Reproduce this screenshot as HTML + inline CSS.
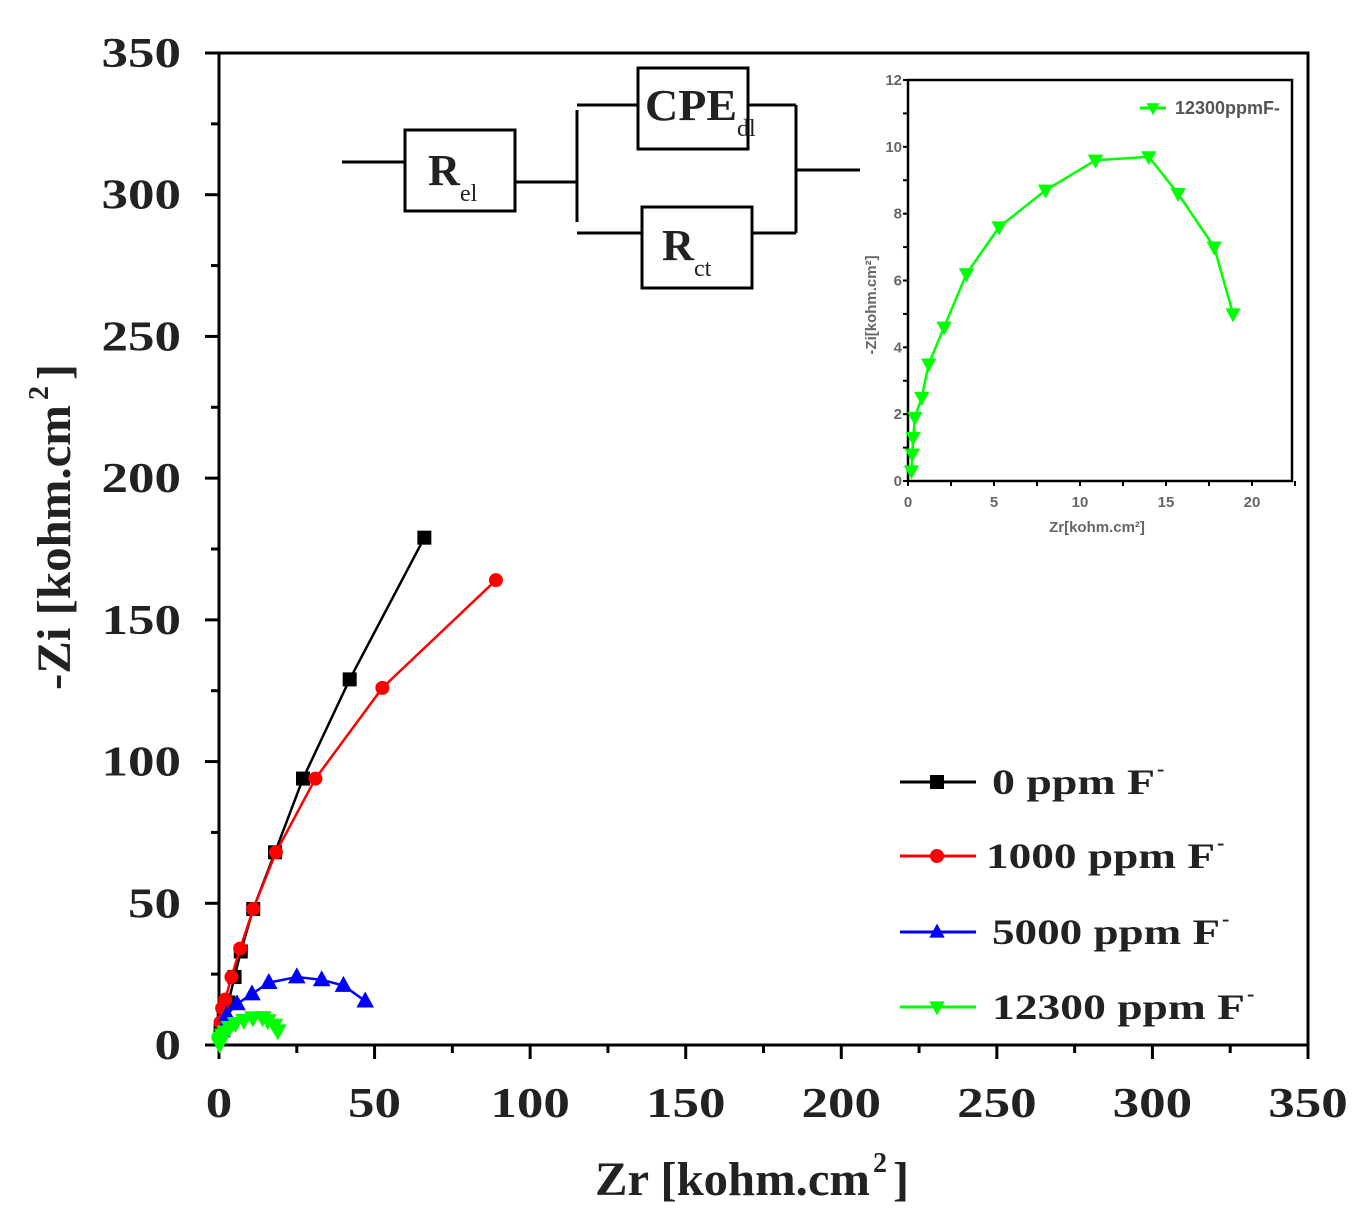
<!DOCTYPE html>
<html><head><meta charset="utf-8"><style>
html,body{margin:0;padding:0;background:#fff;}
svg{display:block;font-family:"Liberation Serif",serif;}
</style></head><body>
<svg id="chart" width="1360" height="1223" viewBox="0 0 1360 1223" xmlns="http://www.w3.org/2000/svg"></svg>
<script>
const xTicks=[0,50,100,150,200,250,300,350];
const yTicks=[0,50,100,150,200,250,300,350];
const seriesNames=["0 ppm F","1000 ppm F","5000 ppm F","12300 ppm F"];
const blackX=[0.5,1.5,3,5,7,11,18,27,42,66];
const blackY=[5,10,15,24,33,48,68,94,129,179];
const redX=[0.5,1,2,4,6.8,11,18.3,31,52.5,89];
const redY=[8,13,16,24,34,48,68,94,126,164];
const blueX=[1,2.5,5.8,10.6,16,25,33,40,47];
const blueY=[5,10.6,14.5,18,22,24,23,21,15.5];
const greenX=[0.2,0.25,0.3,0.4,0.8,1.2,2.1,3.4,5.3,8.0,10.9,14.0,15.7,17.8,18.9];
const greenY=[0.3,0.8,1.3,1.9,2.5,3.5,4.6,6.2,7.6,8.7,9.6,9.7,8.6,7.0,5.0];
const insetXTicks=[0,5,10,15,20];
const insetYTicks=[0,2,4,6,8,10,12];

const NS="http://www.w3.org/2000/svg";
const svg=document.getElementById('chart');
function mk(tag,attrs,parent){const e=document.createElementNS(NS,tag);for(const k in attrs)e.setAttribute(k,attrs[k]);(parent||svg).appendChild(e);return e;}
const X0=219,X1=1308,Y0=1045,Y1=53;
const sx=v=>X0+(v/350)*(X1-X0);
const sy=v=>Y0-(v/350)*(Y0-Y1);

const frame=mk('rect',{x:X0,y:Y1,width:X1-X0,height:Y0-Y1,fill:'none',stroke:'#000','stroke-width':3});


for(let v=0;v<=350;v+=25){
  const major=v%50===0;
  const t=mk('line',{x1:sx(v),x2:sx(v),y1:Y0,y2:Y0+(major?14:8),stroke:'#000','stroke-width':3});
  
  
  const u=mk('line',{x1:X0,x2:X0-(major?14:8),y1:sy(v),y2:sy(v),stroke:'#000','stroke-width':3});
  
  
}
xTicks.forEach(v=>{const s=String(v);const t=mk('text',{x:sx(v),y:1117,'text-anchor':'middle','font-size':42,'font-weight':'bold',fill:'#222',textLength:s.length*26.5,lengthAdjust:'spacingAndGlyphs'});t.textContent=s;
  
  });
yTicks.forEach(v=>{const s=String(v);const t=mk('text',{x:181,y:sy(v)+14,'text-anchor':'end','font-size':42,'font-weight':'bold',fill:'#222',textLength:s.length*26.5,lengthAdjust:'spacingAndGlyphs'});t.textContent=s;
  
  });

const xt=mk('text',{x:595,y:1195,'font-size':48,'font-weight':'bold',fill:'#222',textLength:275,lengthAdjust:'spacingAndGlyphs'});
xt.textContent='Zr [kohm.cm';


const xs2=mk('text',{x:873,y:1172,'font-size':28,'font-weight':'bold',fill:'#222'});xs2.textContent='2';
const xs3=mk('text',{x:893,y:1195,'font-size':48,'font-weight':'bold',fill:'#222'});xs3.textContent=']';
const yg=mk('g',{transform:'translate(70,690) rotate(-90)'});


const yt=mk('text',{x:0,y:0,'font-size':48,'font-weight':'bold',fill:'#222',textLength:285,lengthAdjust:'spacingAndGlyphs'},yg);yt.textContent='-Zi [kohm.cm';
const ys2=mk('text',{x:290,y:-22,'font-size':28,'font-weight':'bold',fill:'#222'},yg);ys2.textContent='2';
const ys3=mk('text',{x:310,y:0,'font-size':48,'font-weight':'bold',fill:'#222'},yg);ys3.textContent=']';

function marker(g,kind,x,y,color,s){
  let e;
  if(kind==='sq')e=mk('rect',{x:x-s,y:y-s,width:2*s,height:2*s,fill:color},g);
  else if(kind==='ci')e=mk('circle',{cx:x,cy:y,r:s,fill:color},g);
  else if(kind==='up')e=mk('polygon',{points:`${x},${y-s*1.2} ${x-s*1.1},${y+s*0.8} ${x+s*1.1},${y+s*0.8}`,fill:color},g);
  else e=mk('polygon',{points:`${x},${y+s*1.2} ${x-s*1.1},${y-s*0.8} ${x+s*1.1},${y-s*0.8}`,fill:color},g);
  
  
}
function series(name,xs,ys,color,kind,fx,fy,s,w){
  const g=mk('g',{});
  
  
  const p=mk('polyline',{points:xs.map((v,i)=>fx(v)+','+fy(ys[i])).join(' '),fill:'none',stroke:color,'stroke-width':w},g);
  
  
  xs.forEach((v,i)=>marker(g,kind,fx(v),fy(ys[i]),color,s));
}
series('series-0ppm',blackX,blackY,'#000','sq',sx,sy,7,2.5);
series('series-1000ppm',redX,redY,'#f00','ci',sx,sy,7,2.5);
series('series-5000ppm',blueX,blueY,'#00f','up',sx,sy,8,2.5);
series('series-12300ppm',greenX,greenY,'#0f0','dn',sx,sy,8,2.5);

const leg=[['#000','sq'],['#f00','ci'],['#00f','up'],['#0f0','dn']];
const legY=[782,856,932,1007];
const legX=[992,986,992,992];
const legW=[163,229,228,253];
leg.forEach((l,i)=>{
  const g=mk('g',{});
  
  
  mk('line',{x1:900,x2:976,y1:legY[i],y2:legY[i],stroke:l[0],'stroke-width':3},g);
  marker(g,l[1],937,legY[i],l[0],7);
  const t=mk('text',{x:legX[i],y:legY[i]+12,'font-size':36,'font-weight':'bold',fill:'#222',textLength:legW[i],lengthAdjust:'spacingAndGlyphs'},g);
  t.textContent=seriesNames[i];
  const s=mk('text',{x:legX[i]+legW[i]+2,y:legY[i]-6,'font-size':22,'font-weight':'bold',fill:'#222'},g);s.textContent='-';
});

const c=mk('g',{stroke:'#000','stroke-width':3,fill:'none'});


[[342,162,405,162],[515,182,577,182],[577,110,577,222],[577,105,638,105],[748,105,796,105],[577,233,642,233],[752,233,796,233],[796,105,796,233],[796,170,860,170]].forEach(a=>mk('line',{x1:a[0],y1:a[1],x2:a[2],y2:a[3]},c));
mk('rect',{x:405,y:130,width:110,height:81,fill:'#fff'},c);
mk('rect',{x:638,y:68,width:110,height:81,fill:'#fff'},c);
mk('rect',{x:642,y:207,width:110,height:81,fill:'#fff'},c);
function ctext(x,y,main,sub,name,w){const t=mk('text',{x:x,y:y,'font-size':44,'font-weight':'bold',fill:'#222'});
  t.innerHTML='<tspan textLength="'+w+'" lengthAdjust="spacingAndGlyphs">'+main+'</tspan><tspan dy="16" font-size="24" font-weight="normal">'+sub+'</tspan>';
  
  }
ctext(428,185,'R','el','rel-label',32);
ctext(645,120,'CPE','dl','cpe-label',92);
ctext(662,260,'R','ct','rct-label',32);

const IX0=908,IX1=1292,IY0=481,IY1=80;
const ix=v=>IX0+v*(1252-IX0)/20;
const iy=v=>IY0-v*(IY0-IY1)/12;
const ig=mk('g',{});


mk('rect',{x:IX0,y:IY1,width:IX1-IX0,height:IY0-IY1,fill:'#fff',stroke:'#000','stroke-width':2.5},ig);
for(let v=0;v<=22.5;v+=2.5){mk('line',{x1:ix(v),x2:ix(v),y1:IY0,y2:IY0+5,stroke:'#000','stroke-width':2},ig);}
for(let v=0;v<=12;v+=1){mk('line',{x1:IX0,x2:IX0-5,y1:iy(v),y2:iy(v),stroke:'#000','stroke-width':2},ig);}
insetXTicks.forEach(v=>{const t=mk('text',{x:ix(v),y:507,'text-anchor':'middle','font-size':15,'font-weight':'bold',fill:'#666','font-family':'Liberation Sans'},ig);t.textContent=v;});
insetYTicks.forEach(v=>{const t=mk('text',{x:IX0-6,y:iy(v)+5,'text-anchor':'end','font-size':15,'font-weight':'bold',fill:'#666','font-family':'Liberation Sans'},ig);t.textContent=v;});
const ixt=mk('text',{x:1097,y:532,'text-anchor':'middle','font-size':15,'font-weight':'bold',fill:'#666','font-family':'Liberation Sans'},ig);ixt.textContent='Zr[kohm.cm²]';
const iyt=mk('text',{x:0,y:0,'text-anchor':'middle','font-size':15,'font-weight':'bold',fill:'#666','font-family':'Liberation Sans',transform:'translate(876,305) rotate(-90)'},ig);iyt.textContent='-Zi[kohm.cm²]';
series('inset-series-12300ppm',greenX,greenY,'#0f0','dn',ix,iy,7,2.5);
mk('line',{x1:1140,x2:1166,y1:108,y2:108,stroke:'#0f0','stroke-width':3},ig);
marker(ig,'dn',1153,108,'#0f0',6);
const il=mk('text',{x:1175,y:114,'font-size':18,'font-weight':'bold',fill:'#555','font-family':'Liberation Sans',textLength:105,lengthAdjust:'spacingAndGlyphs'},ig);il.textContent='12300ppmF-';
</script>
</body></html>
